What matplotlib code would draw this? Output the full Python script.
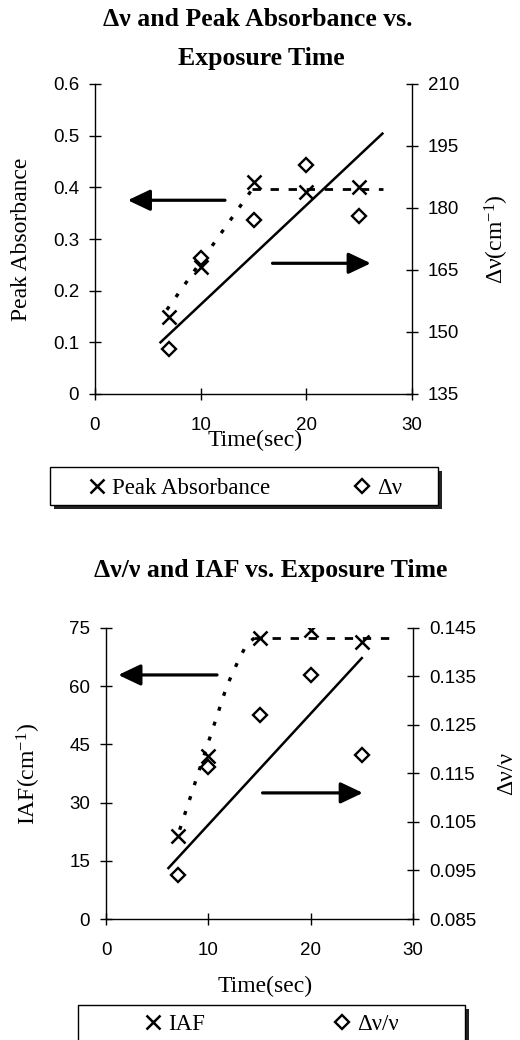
import matplotlib
matplotlib.use("Agg")
import matplotlib.pyplot as plt
from matplotlib.patches import Rectangle

plt.rcParams['font.family'] = ['Liberation Sans', 'DejaVu Sans']
plt.rcParams['mathtext.fontset'] = 'custom'
plt.rcParams['mathtext.rm'] = 'Liberation Serif'
plt.rcParams['mathtext.it'] = 'Liberation Serif:italic'
plt.rcParams['mathtext.bf'] = 'Liberation Serif:bold'

# ---------------- data ----------------
time_sec = [7, 10, 15, 20, 25]
peak_absorbance = [0.15, 0.245, 0.41, 0.39, 0.40]
delta_nu = [146.0, 168.0, 177.0, 190.5, 178.0]
iaf = [21.5, 42.0, 72.5, 74.5, 71.5]
delta_nu_over_nu = [0.0941, 0.1163, 0.1271, 0.1353, 0.1188]

# trend lines
top_fit_t = [6.2, 27.2]
top_fit_dnu = [147.5, 198.0]
top_rise_t = [6.8, 14.9]
top_rise_abs = [0.163, 0.397]
top_flat_t = [14.9, 27.3]
top_flat_abs = [0.397, 0.397]
bot_fit_t = [6.1, 25.0]
bot_fit_dnn = [0.0955, 0.1388]
bot_rise_t = [7.2, 11.8, 13.0, 13.8, 14.5]
bot_rise_iaf = [23.0, 60.0, 67.0, 71.0, 72.4]
bot_flat_t = [14.5, 28.3]
bot_flat_iaf = [72.4, 72.4]

# arrows (tail t, head t, level on left axis)
top_arrows = [(12.3, 3.1, 0.375), (16.8, 26.1, 0.253)]
bot_arrows = [(10.85, 1.2, 62.9), (15.3, 25.1, 32.5)]

x_ticks = [0, 10, 20, 30]
top_left_ticks = [0, 0.1, 0.2, 0.3, 0.4, 0.5, 0.6]
top_left_labels = ['0', '0.1', '0.2', '0.3', '0.4', '0.5', '0.6']
top_right_ticks = [135, 150, 165, 180, 195, 210]
bot_left_ticks = [0, 15, 30, 45, 60, 75]
bot_right_ticks = [0.085, 0.095, 0.105, 0.115, 0.125, 0.135, 0.145]
bot_right_labels = ['0.085', '0.095', '0.105', '0.115', '0.125', '0.135', '0.145']

W, H = 520, 1040
fig = plt.figure(figsize=(W / 100, H / 100), dpi=100)

SERIF = 'Liberation Serif'
TICK_FS = 13.5
LAB_FS = 17
TITLE_FS = 18.5
LEG_FS = 16.5


def fy(y):
    return 1 - y / H


def px_axes(l, t, r, b):
    return fig.add_axes([l / W, 1 - b / H, (r - l) / W, (b - t) / H])


def style_pair(ax, ax2):
    ax.spines['top'].set_visible(False)
    ax.spines['right'].set_visible(False)
    for s in ['top', 'left', 'bottom']:
        ax2.spines[s].set_visible(False)
    for s in ['left', 'bottom']:
        ax.spines[s].set_linewidth(1.0)
    ax2.spines['right'].set_linewidth(1.0)
    ax.tick_params(axis='y', direction='inout', length=9, width=1,
                   labelsize=TICK_FS, pad=7)
    ax.tick_params(axis='x', direction='inout', length=9, width=1,
                   labelsize=TICK_FS, pad=12)
    ax2.tick_params(axis='y', direction='inout', length=9, width=1,
                    labelsize=TICK_FS, pad=7)


def draw_arrows(ax, arrows):
    for t0, t1, yv in arrows:
        ax.annotate('', xy=(t1, yv), xytext=(t0, yv),
                    arrowprops=dict(arrowstyle='-|>,head_length=0.8,head_width=0.38',
                                    lw=2.3, color='black', mutation_scale=17,
                                    shrinkA=0, shrinkB=0))


def legend_box(l, t, r, b, off=4):
    fig.add_artist(Rectangle((l / W + off / W, fy(b + off)), (r - l) / W, (b - t) / H,
                             transform=fig.transFigure, facecolor='#222222',
                             edgecolor='none', zorder=1))
    fig.add_artist(Rectangle((l / W, fy(b)), (r - l) / W, (b - t) / H,
                             transform=fig.transFigure, facecolor='white',
                             edgecolor='black', lw=1.0, zorder=2))


# ---------------- top chart ----------------
ax1 = px_axes(95, 84, 412, 394)
ax1b = ax1.twinx()
ax1.set_xlim(0, 30)
ax1.set_ylim(0, 0.6)
ax1b.set_ylim(135, 210)
ax1.set_xticks(x_ticks)
ax1.set_yticks(top_left_ticks)
ax1.set_yticklabels(top_left_labels)
ax1b.set_yticks(top_right_ticks)
style_pair(ax1, ax1b)

h_pa, = ax1.plot(time_sec, peak_absorbance, linestyle='none', marker='x',
                 markersize=10, mew=1.8, color='black', label='Peak Absorbance', zorder=5)
ax1.plot(top_rise_t, top_rise_abs, color='black', lw=2.4, linestyle=(0, (1.2, 3.5)),
         dash_capstyle='butt')
ax1.plot(top_flat_t, top_flat_abs, color='black', lw=2.0, linestyle=(0, (3, 3.5)))
h_dn, = ax1b.plot(time_sec, delta_nu, linestyle='none', marker='D', markersize=7.3,
                  mew=1.7, mfc='white', mec='black', color='black', label='Δν', zorder=5)
ax1b.plot(top_fit_t, top_fit_dnu, color='black', lw=1.8)
draw_arrows(ax1, top_arrows)

ax1.set_ylabel('Peak Absorbance', fontfamily=SERIF, fontsize=LAB_FS)
ax1.yaxis.set_label_coords(-0.2, 0.5)
ax1b.set_ylabel('Δν(cm$^{-1}$)', fontfamily=SERIF, fontsize=LAB_FS)
ax1b.yaxis.set_label_coords(1.222, 0.5)
fig.text(255 / W, fy(440), 'Time(sec)', ha='center', va='center',
         fontfamily=SERIF, fontsize=LAB_FS)

fig.text(258 / W, fy(20), 'Δν and Peak Absorbance vs.', ha='center', va='center',
         fontfamily=SERIF, fontweight='bold', fontsize=TITLE_FS)
fig.text(261 / W, fy(59), 'Exposure Time', ha='center', va='center',
         fontfamily=SERIF, fontweight='bold', fontsize=TITLE_FS)

legend_box(50, 467, 438, 505)
leg1 = fig.legend(handles=[h_pa, h_dn], loc='center left',
                  bbox_to_anchor=(88 / W, fy(488)), ncol=2, frameon=False,
                  prop={'family': SERIF, 'size': LEG_FS}, handlelength=0.8,
                  handletextpad=0.25, columnspacing=3.6, borderpad=0,
                  borderaxespad=0)
leg1.set_zorder(3)

# ---------------- bottom chart ----------------
ax2 = px_axes(106, 628, 413, 919)
ax2b = ax2.twinx()
ax2.set_xlim(0, 30)
ax2.set_ylim(0, 75)
ax2b.set_ylim(0.085, 0.145)
ax2.set_xticks(x_ticks)
ax2.set_yticks(bot_left_ticks)
ax2b.set_yticks(bot_right_ticks)
ax2b.set_yticklabels(bot_right_labels)
style_pair(ax2, ax2b)

h_iaf, = ax2.plot(time_sec, iaf, linestyle='none', marker='x', markersize=10, mew=1.8,
                  color='black', label='IAF', zorder=5)
ax2.plot(bot_rise_t, bot_rise_iaf, color='black', lw=2.4, linestyle=(0, (1.2, 3.5)))
ax2.plot(bot_flat_t, bot_flat_iaf, color='black', lw=2.0, linestyle=(0, (3, 3.5)))
h_dnn, = ax2b.plot(time_sec, delta_nu_over_nu, linestyle='none', marker='D',
                   markersize=7.3, mew=1.7, mfc='white', mec='black', color='black',
                   label='Δν/ν', zorder=5)
ax2b.plot(bot_fit_t, bot_fit_dnn, color='black', lw=1.8)
draw_arrows(ax2, bot_arrows)

ax2.set_ylabel('IAF(cm$^{-1}$)', fontfamily=SERIF, fontsize=LAB_FS)
ax2.yaxis.set_label_coords(-0.205, 0.5)
ax2b.set_ylabel('Δν/ν', fontfamily=SERIF, fontsize=LAB_FS)
ax2b.yaxis.set_label_coords(1.272, 0.5)
fig.text(265 / W, fy(986), 'Time(sec)', ha='center', va='center',
         fontfamily=SERIF, fontsize=LAB_FS)

fig.text(271 / W, fy(570), 'Δν/ν and IAF vs. Exposure Time', ha='center',
         va='center', fontfamily=SERIF, fontweight='bold', fontsize=TITLE_FS)

legend_box(78, 1005, 465, 1046)
leg2 = fig.legend(handles=[h_iaf, h_dnn], loc='center left',
                  bbox_to_anchor=(144 / W, fy(1024)), ncol=2, frameon=False,
                  prop={'family': SERIF, 'size': LEG_FS}, handlelength=0.8,
                  handletextpad=0.25, columnspacing=5.6, borderpad=0,
                  borderaxespad=0)
leg2.set_zorder(3)

fig.savefig('out.png', dpi=100)
